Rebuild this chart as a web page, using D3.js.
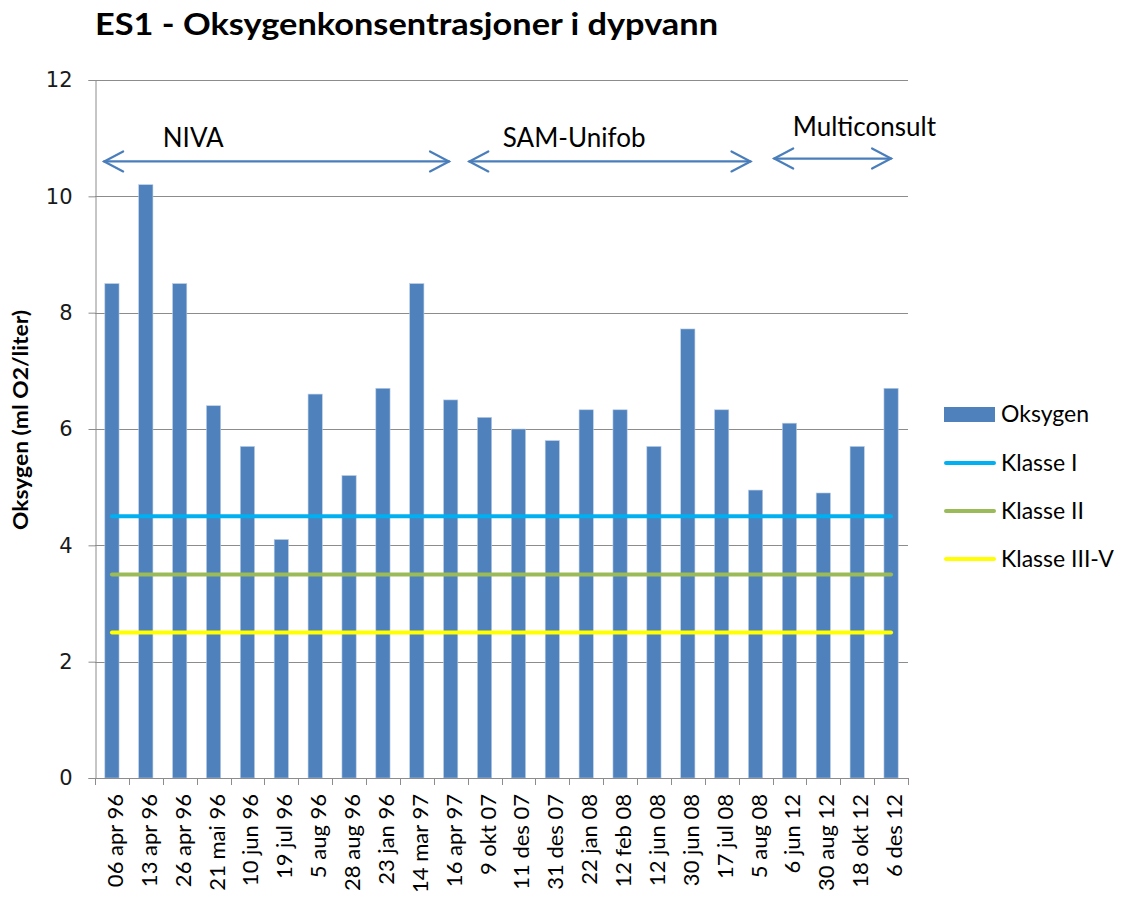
<!DOCTYPE html>
<html>
<head>
<meta charset="utf-8">
<script src="https://cdn.jsdelivr.net/npm/d3@7"></script>
<style>
  body { margin: 0; background: #fff; }
  svg { display: block; }
</style>
</head>
<body>
<script>
// data
var dates = ["06 apr 96", "13 apr 96", "26 apr 96", "21 mai 96", "10 jun 96", "19 jul 96",
             "5 aug 96", "28 aug 96", "23 jan 96", "14 mar 97", "16 apr 97", "9 okt 07",
             "11 des 07", "31 des 07", "22 jan 08", "12 feb 08", "12 jun 08", "30 jun 08",
             "17 jul 08", "5 aug 08", "6 jun 12", "30 aug 12", "18 okt 12", "6 des 12"];
var oksygen = [8.5, 10.2, 8.5, 6.4, 5.7, 4.1, 6.6, 5.2, 6.7, 8.5, 6.5, 6.2,
               6.0, 5.8, 6.33, 6.33, 5.7, 7.72, 6.33, 4.95, 6.1, 4.9, 5.7, 6.7];
var klasseNames = ["Klasse I", "Klasse II", "Klasse III-V"];
var klasseValues = [4.5, 3.5, 2.5];
var yTicks = [0, 2, 4, 6, 8, 10, 12];
// period annotations, in category index units (start, end) and y value
var periodNames = ["NIVA", "SAM-Unifob", "Multiconsult"];
var periodStart = [0.27, 11.05, 20.05];
var periodEnd = [10.45, 19.35, 23.5];
var periodY = [10.6, 10.6, 10.65];
var periodLabelX = [2.0, 12.04, 20.6];
var periodLabelY = [10.85, 10.85, 11.03];

var W = 1122, H = 905;
var plotL = 95, plotR = 908, plotT = 80, plotB = 778;
var barColor = "#4f81bd";
var klasseColors = ["#00b0f0", "#9bbb59", "#ffff00"];
var arrowColor = "#4a7ebb";
var gridColor = "#8c8c8c";

var svg = d3.select("body").append("svg")
    .attr("width", W).attr("height", H);

var x = d3.scaleBand().domain(dates).range([plotL, plotR])
    .paddingInner(0.58).paddingOuter(0.29);
var xi = d3.scaleLinear().domain([0, dates.length]).range([plotL, plotR]);
var y = d3.scaleLinear().domain([0, 12]).range([plotB, plotT]);

// title
svg.append("text")
    .attr("x", 95).attr("y", 35)
    .attr("font-family", "Lato").attr("font-weight", "bold")
    .attr("font-size", 31)
    .attr("textLength", 623).attr("lengthAdjust", "spacingAndGlyphs")
    .attr("fill", "#000")
    .text("ES1 - Oksygenkonsentrasjoner i dypvann");

// gridlines
svg.append("g").selectAll("line").data(yTicks.filter(function(d){ return d > 0; }))
  .enter().append("line")
    .attr("x1", plotL).attr("x2", plotR)
    .attr("y1", function(d){ return Math.round(y(d)) + 0.5; })
    .attr("y2", function(d){ return Math.round(y(d)) + 0.5; })
    .attr("stroke", gridColor).attr("stroke-width", 1);

// y axis
var yAxis = svg.append("g")
    .attr("transform", "translate(" + (plotL + 0.5) + ",0)")
    .call(d3.axisLeft(y).tickValues(yTicks).tickSize(7).tickPadding(16).tickFormat(d3.format("d")));
yAxis.select(".domain").attr("stroke", gridColor);
yAxis.selectAll(".tick line").attr("stroke", gridColor);
yAxis.selectAll(".tick text")
    .attr("font-family", "DejaVu Sans").attr("font-size", 21).attr("fill", "#1a1a1a");

// bars
svg.append("g").selectAll("rect").data(oksygen).enter().append("rect")
    .attr("x", function(d, i){ return x(dates[i]); })
    .attr("y", function(d){ return y(d); })
    .attr("width", x.bandwidth())
    .attr("height", function(d){ return y(0) - y(d); })
    .attr("fill", barColor)
    .attr("stroke", "#b9cde5").attr("stroke-width", 0.6);

// x axis (ticks between categories)
var xAxisG = svg.append("g");
xAxisG.append("line")
    .attr("x1", plotL).attr("x2", plotR)
    .attr("y1", Math.round(y(0)) + 0.5).attr("y2", Math.round(y(0)) + 0.5)
    .attr("stroke", gridColor);
xAxisG.selectAll(".xt").data(d3.range(dates.length + 1)).enter().append("line")
    .attr("x1", function(i){ return Math.round(xi(i)) + 0.5; })
    .attr("x2", function(i){ return Math.round(xi(i)) + 0.5; })
    .attr("y1", Math.round(y(0))).attr("y2", Math.round(y(0)) + 7)
    .attr("stroke", gridColor);
xAxisG.selectAll(".xl").data(dates).enter().append("text")
    .attr("transform", function(d){
      return "translate(" + (x(d) + x.bandwidth() / 2 + 11) + "," + (y(0) + 16) + ") rotate(-90)";
    })
    .attr("text-anchor", "end")
    .attr("font-family", "Lato").attr("font-size", 22).attr("fill", "#000")
    .text(function(d){ return d; });

// class lines
var line = d3.line()
    .x(function(d){ return x(d[0]) + x.bandwidth() / 2; })
    .y(function(d){ return y(d[1]); });
klasseValues.forEach(function(v, k){
  svg.append("path")
      .attr("d", line(dates.map(function(c){ return [c, v]; })))
      .attr("fill", "none")
      .attr("stroke", klasseColors[k]).attr("stroke-width", 4)
      .attr("stroke-linecap", "round");
});

// period arrows
var chevron = function(xTip, yy, dir){
  // open arrowhead, dir = 1 pointing right, -1 pointing left
  return "M" + (xTip - dir * 19) + "," + (yy - 10) + "L" + xTip + "," + yy +
         "L" + (xTip - dir * 19) + "," + (yy + 10);
};
periodNames.forEach(function(name, i){
  var x1 = xi(periodStart[i]), x2 = xi(periodEnd[i]), yy = y(periodY[i]);
  var g = svg.append("g").attr("stroke", arrowColor).attr("stroke-width", 2.2)
      .attr("fill", "none").attr("stroke-linecap", "round");
  g.append("line").attr("x1", x1).attr("x2", x2).attr("y1", yy).attr("y2", yy);
  g.append("path").attr("d", chevron(x1, yy, -1));
  g.append("path").attr("d", chevron(x2, yy, 1));
  svg.append("text")
      .attr("x", xi(periodLabelX[i])).attr("y", y(periodLabelY[i]))
      .attr("font-family", "Lato").attr("font-size", 26).attr("fill", "#000")
      .text(name);
});

// y axis title
svg.append("text")
    .attr("transform", "translate(28,420) rotate(-90)")
    .attr("text-anchor", "middle")
    .attr("font-family", "Lato").attr("font-weight", "bold").attr("font-size", 21)
    .attr("textLength", 220).attr("lengthAdjust", "spacingAndGlyphs")
    .attr("fill", "#000")
    .text("Oksygen (ml O2/liter)");

// legend
var lg = svg.append("g");
lg.append("rect").attr("x", 944).attr("y", 407).attr("width", 51).attr("height", 15)
    .attr("fill", barColor);
lg.append("text").attr("x", 1001).attr("y", 422)
    .attr("font-family", "Lato").attr("font-size", 23).attr("fill", "#000").text("Oksygen");
klasseNames.forEach(function(name, k){
  var ly = 463 + k * 48;
  lg.append("line").attr("x1", 946).attr("x2", 994).attr("y1", ly).attr("y2", ly)
      .attr("stroke", klasseColors[k]).attr("stroke-width", 4).attr("stroke-linecap", "round");
  lg.append("text").attr("x", 1001).attr("y", ly + 8)
      .attr("font-family", "Lato").attr("font-size", 23).attr("fill", "#000").text(name);
});
</script>
</body>
</html>
